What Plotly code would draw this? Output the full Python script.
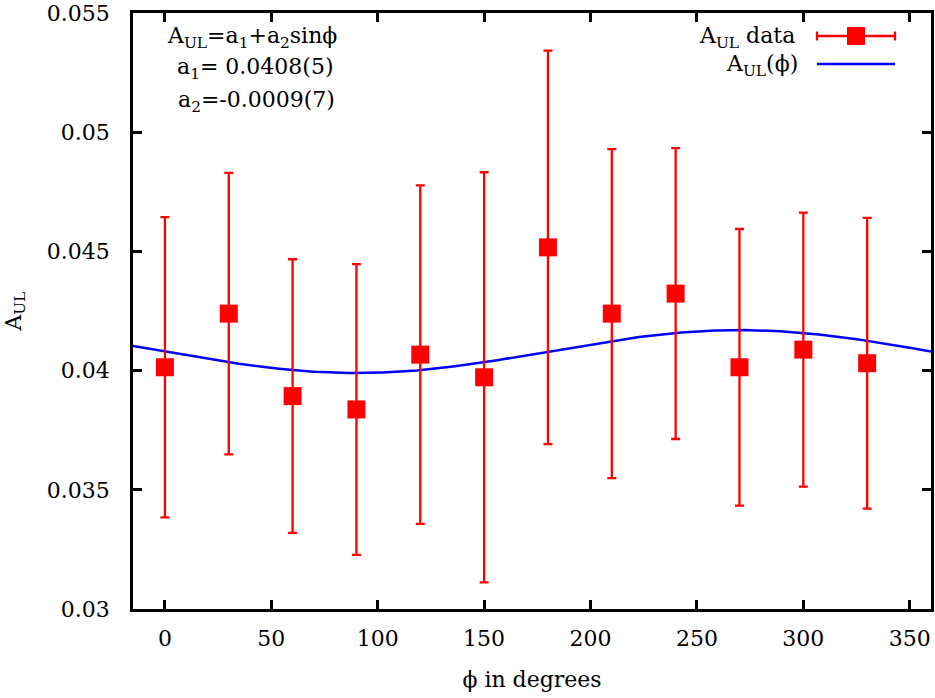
import numpy as np
import plotly.graph_objects as go

# ---- data ----
phi_deg = [0, 30, 60, 90, 120, 150, 180, 210, 240, 270, 300, 330]
a_ul = [0.04014, 0.04239, 0.03893, 0.03837, 0.04067, 0.03972,
        0.04517, 0.04239, 0.04323, 0.04014, 0.04088, 0.04031]
a_ul_err = [0.0063, 0.0059, 0.00574, 0.0061, 0.0071, 0.0086,
            0.00825, 0.0069, 0.0061, 0.0058, 0.00575, 0.0061]

# fit parameters quoted on the chart: A_UL = a1 + a2 sin(phi)
fit_a1 = 0.0408
fit_a2 = -0.0009

x_ticks = [0, 50, 100, 150, 200, 250, 300, 350]
y_ticks = [0.03, 0.035, 0.04, 0.045, 0.05, 0.055]
y_tick_text = ["0.03", "0.035", "0.04", "0.045", "0.05", "0.055"]

X_RANGE = [-15, 360]
Y_RANGE = [0.02999999, 0.05500001]

FONT = "DejaVu Serif"
FS = 22
W, H = 935, 698
ML, MR, MT, MB = 133, 4, 13, 89

def px_x(px):
    return (px - ML) / (W - ML - MR)

def px_y(py):
    return (H - MB - py) / (H - MT - MB)

phi_grid = np.linspace(X_RANGE[0], X_RANGE[1], 400)
fit_curve = fit_a1 + fit_a2 * np.sin(np.deg2rad(phi_grid))

fig = go.Figure()
fig.add_trace(go.Scatter(
    x=phi_grid, y=fit_curve, mode="lines",
    line=dict(color="#0000ff", width=2.5), showlegend=False, hoverinfo="skip"))
fig.add_trace(go.Scatter(
    x=phi_deg, y=a_ul, mode="markers",
    marker=dict(symbol="square", size=18, color="#ff0000"),
    error_y=dict(type="data", array=a_ul_err, color="#ff0000", thickness=2.3, width=4.5),
    showlegend=False))

axis_common = dict(
    showline=True, linewidth=2.5, linecolor="black", mirror="ticks",
    ticks="inside", ticklen=9, tickwidth=2.5, tickcolor="black",
    showgrid=False, zeroline=False, ticklabeloverflow="allow", automargin=False,
    tickfont=dict(family=FONT, size=FS, color="black"),
)

fig.update_xaxes(range=X_RANGE, tickvals=x_ticks,
                 title=dict(text="ϕ in degrees", font=dict(family=FONT, size=FS, color="black"),
                            standoff=22),
                 ticklabelstandoff=8,
                 **axis_common)
fig.update_yaxes(range=Y_RANGE, tickvals=y_ticks, ticktext=y_tick_text,
                 title=dict(text="A<sub>UL</sub>", font=dict(family=FONT, size=FS, color="black"),
                            standoff=20),
                 ticklabelstandoff=16,
                 **axis_common)

annotations = []
txt_font = dict(family=FONT, size=FS, color="black")
# fit formula text (top-left)
for text, cx, cy in [("A<sub>UL</sub>=a<sub>1</sub>+a<sub>2</sub>sinϕ", 252, 37),
                     ("a<sub>1</sub>= 0.0408(5)", 255, 69),
                     ("a<sub>2</sub>=-0.0009(7)", 256, 101)]:
    annotations.append(dict(text=text, x=px_x(cx), y=px_y(cy), xref="paper", yref="paper",
                            xanchor="center", yanchor="middle", showarrow=False, font=txt_font))
# legend text (top-right, right aligned)
for text, rx, cy in [("A<sub>UL</sub> data", 797, 38), ("A<sub>UL</sub>(ϕ)", 800, 65)]:
    annotations.append(dict(text=text, x=px_x(rx), y=px_y(cy), xref="paper", yref="paper",
                            xanchor="right", yanchor="middle", showarrow=False, font=txt_font))

shapes = []
# legend key 1: red error bar with square
ly1 = 36
shapes.append(dict(type="line", xref="paper", yref="paper", x0=px_x(817), x1=px_x(895),
                   y0=px_y(ly1), y1=px_y(ly1), line=dict(color="#ff0000", width=2.3)))
for ex in (817, 895):
    shapes.append(dict(type="line", xref="paper", yref="paper", x0=px_x(ex), x1=px_x(ex),
                       y0=px_y(ly1 - 4.5), y1=px_y(ly1 + 4.5), line=dict(color="#ff0000", width=2.3)))
shapes.append(dict(type="rect", xref="paper", yref="paper", x0=px_x(847), x1=px_x(865),
                   y0=px_y(ly1 - 9), y1=px_y(ly1 + 9), line=dict(width=0), fillcolor="#ff0000"))
# legend key 2: blue line
ly2 = 64
shapes.append(dict(type="line", xref="paper", yref="paper", x0=px_x(817), x1=px_x(895),
                   y0=px_y(ly2), y1=px_y(ly2), line=dict(color="#0000ff", width=2.5)))

fig.update_layout(
    width=W, height=H,
    margin=dict(l=ML, r=MR, t=MT, b=MB, autoexpand=False),
    paper_bgcolor="white", plot_bgcolor="white",
    font=dict(family=FONT, size=FS, color="black"),
    annotations=annotations, shapes=shapes,
    showlegend=False,
)

fig.write_html("out.html")
